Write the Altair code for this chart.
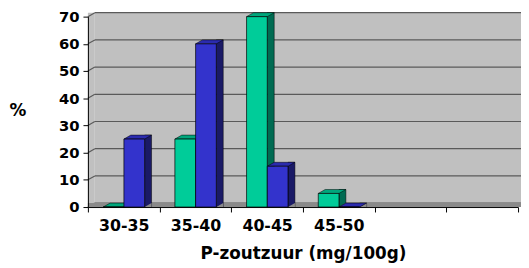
import json
import altair as alt
import pandas as pd

# ---- data ----
categories = ["30-35", "35-40", "40-45", "45-50", "", ""]
series = ["Reeks1", "Reeks2"]
values_1 = [0, 25, 70, 5]
values_2 = [25, 60, 15, 0]
y_ticks = [0, 10, 20, 30, 40, 50, 60, 70]
x_title = "P-zoutzuur (mg/100g)"
y_title = "%"

# ---- style / layout ----
front_colors = ["#00CC99", "#3333CC"]
top_colors = ["#00A67C", "#2B2BAE"]
side_colors = ["#006B52", "#1A1A66"]
wall = "#C0C0C0"
floor = "#8A8A8A"
grid = "#5A5A5A"
FONT = "DejaVu Sans"

W, H = 436, 193
DX, DY = 7, 4
N = len(categories)
slot_px = W / N
BAR_PX = 21.0
GROUP_START = 15.5 / slot_px
BAR = BAR_PX / slot_px

rows = []
for s, vals in enumerate([values_1, values_2]):
    for i, v in enumerate(vals):
        x0 = i + GROUP_START + s * BAR
        rows.append(dict(cat=categories[i], series=series[s], value=v,
                         x0=x0, x1=x0 + BAR, zero=0))
bars = pd.DataFrame(rows)

ys = alt.Scale(domain=[0, max(y_ticks)], nice=False, zero=True)
xs = alt.Scale(domain=[0, N], nice=False, zero=True)

frame = pd.DataFrame({"top": [max(y_ticks)], "bottom": [0]})
ticks = pd.DataFrame({"v": y_ticks})

label_expr = f"{json.dumps(categories + [''])}[datum.value]"
x_axis = alt.Axis(
    values=list(range(N + 1)), labelExpr=label_expr, labelOffset=slot_px / 2,
    labelFlush=False, labelOverlap=False, labelBound=False, zindex=1,
    grid=False, tickSize=5, tickColor="black", domainColor="black",
    labelPadding=6, labelFont=FONT, labelFontWeight="bold", labelFontSize=16,
    labelColor="black", title=x_title, titleFont=FONT, titleFontWeight="bold",
    titleFontSize=17, titleColor="black", titleBaseline="alphabetic", titleY=52)
y_axis = alt.Axis(
    values=y_ticks, grid=False, tickSize=5, tickColor="black", domainColor="black",
    labelPadding=4, labelFont=FONT, labelFontWeight="bold", labelFontSize=15,
    labelColor="black", title=y_title, titleAngle=0, titleFont=FONT, zindex=1,
    titleFontWeight="bold", titleFontSize=17, titleColor="black",
    titleAlign="center", titleBaseline="middle", titleX=-71.5, titleY=95)

Y = lambda f: alt.Y(f, scale=ys, axis=y_axis)
X = lambda f: alt.X(f, scale=xs, axis=x_axis)

back_wall = alt.Chart(frame).mark_rect(fill=wall, yOffset=-DY, y2Offset=-DY).encode(
    x=alt.value(DX), x2=alt.value(W + 30), y=Y("top:Q"), y2="bottom:Q")

left_wall = alt.Chart(frame).mark_rect(fill=wall, yOffset=-DY).encode(
    x=alt.value(0), x2=alt.value(DX), y=Y("top:Q"), y2="bottom:Q")

back_grid = alt.Chart(ticks).mark_rule(color=grid, strokeWidth=1.2, yOffset=-DY).encode(
    x=alt.value(DX), x2=alt.value(W + 30), y=Y("v:Q"))

left_grid = alt.Chart(ticks).mark_rule(color=grid, strokeWidth=1.2, y2Offset=-DY).encode(
    x=alt.value(0), x2=alt.value(DX), y=Y("v:Q"), y2="v:Q")

floor_rect = alt.Chart(frame).mark_rect(fill=floor, yOffset=-DY).encode(
    x=alt.value(0), x2=alt.value(W + 30), y=Y("bottom:Q"), y2="bottom:Q")

side_scale = alt.Scale(domain=series, range=side_colors)
top_scale = alt.Scale(domain=series, range=top_colors)
front_scale = alt.Scale(domain=series, range=front_colors)

sides = alt.Chart(bars).mark_rect(x2Offset=DX, yOffset=-DY, stroke="black",
                                  strokeWidth=0.5).encode(
    x=X("x1:Q"), x2="x1:Q", y=Y("value:Q"), y2="zero:Q",
    fill=alt.Fill("series:N", scale=side_scale, legend=None))

tri_r = DX / 2.0
floor_tri = alt.Chart(bars).mark_point(
    shape=f"M0,0L2,0L2,{-2 * DY / DX:.4f}Z", size=(2 * tri_r) ** 2,
    filled=True, opacity=1, fill=floor, strokeWidth=0).encode(
    x=X("x1:Q"), y=Y("zero:Q"))

R = (BAR_PX + DX) / 2.0
tw = BAR_PX / R
td = DX / R
th = DY / R
top_path = f"M0,0L{tw:.4f},0L{tw + td:.4f},{-th:.4f}L{td:.4f},{-th:.4f}Z"
tops = alt.Chart(bars).mark_point(
    shape=top_path, size=(2 * R) ** 2, filled=True, opacity=1,
    stroke="black", strokeWidth=0.5).encode(
    x=X("x0:Q"), y=Y("value:Q"),
    fill=alt.Fill("series:N", scale=top_scale, legend=None))

fronts = alt.Chart(bars).mark_rect(stroke="black", strokeWidth=0.7).encode(
    x=X("x0:Q"), x2="x1:Q", y=Y("value:Q"), y2="zero:Q",
    fill=alt.Fill("series:N", scale=front_scale, legend=None))

chart = alt.layer(back_wall, left_wall, back_grid, left_grid, floor_rect,
                  sides, floor_tri, tops, fronts).resolve_scale(fill="independent").properties(
    width=W, height=H,
    autosize=alt.AutoSizeParams(type="none"),
    padding={"left": 81, "top": 7, "right": 3, "bottom": 58},
    background="white",
).configure_view(stroke=None)

chart.save("out.html", embed_options={"renderer": "svg", "actions": False})
